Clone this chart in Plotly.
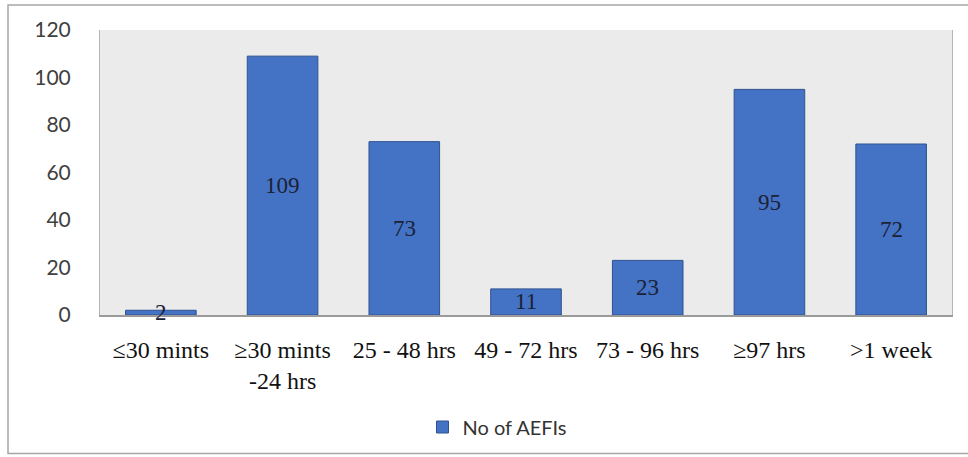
import plotly.graph_objects as go

categories = ["≤30 mints", "≥30 mints<br>-24 hrs", "25 - 48 hrs", "49 - 72 hrs",
              "73 - 96 hrs", "≥97 hrs", ">1 week"]
aefi_counts = [2, 109, 73, 11, 23, 95, 72]
y_ticks = [0, 20, 40, 60, 80, 100, 120]
series_name = "No of AEFIs"

W, H = 968, 457
L, R, T, B = 100, 16, 30, 141
pw, ph = W - L - R, H - T - B


def px_x(x):
    return (x - L) / pw


def px_y(y):
    return (H - B - y) / ph


fig = go.Figure()
fig.add_trace(go.Bar(
    x=categories, y=aefi_counts, name=series_name,
    marker=dict(color="#4472C4", line=dict(color="#2F528F", width=1)),
    showlegend=True,
))

# value labels centred in each bar
for c, v in zip(categories, aefi_counts):
    fig.add_annotation(x=c, y=v / 2, text=str(v), showarrow=False,
                       font=dict(family="Liberation Serif", size=23, color="#1b2236"),
                       xanchor="center", yanchor="middle")

# outer chart frame
fig.add_shape(type="rect", xref="paper", yref="paper",
              x0=px_x(8), x1=px_x(990), y0=px_y(455), y1=px_y(5),
              line=dict(color="#a6a6a6", width=1.5), fillcolor="rgba(0,0,0,0)", layer="below")

fig.update_layout(
    width=W, height=H,
    margin=dict(l=L, r=R, t=T, b=B),
    paper_bgcolor="white",
    plot_bgcolor="#ebebeb",
    bargap=0.42,
    showlegend=True,
    legend=dict(orientation="h", x=px_x(497), y=px_y(427), xanchor="center", yanchor="middle",
                font=dict(family="Lato", size=20, color="#333333"),
                itemwidth=30),
    xaxis=dict(
        showgrid=False, showline=True, linecolor="#9a9a9a", linewidth=1.5,
        mirror=False, ticks="", ticklabelstandoff=12,
        tickfont=dict(family="Liberation Serif", size=24, color="#111111"),
    ),
    yaxis=dict(
        range=[0, 120], tickvals=y_ticks, showgrid=False, zeroline=False,
        showline=True, linecolor="#b5b5b5", linewidth=1, mirror=True,
        ticks="", ticklabelstandoff=24,
        tickfont=dict(family="Lato", size=21, color="#404040"),
    ),
)

fig.write_html("out.html")
